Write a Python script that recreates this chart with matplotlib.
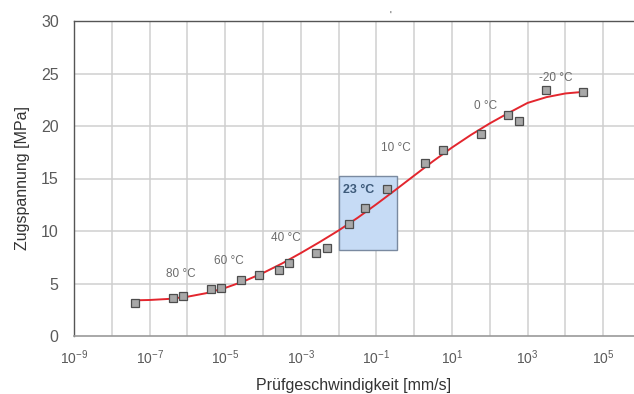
import matplotlib
matplotlib.use("Agg")
import matplotlib.pyplot as plt
from matplotlib.patches import Rectangle
import numpy as np

plt.rcParams['font.family'] = ['Liberation Sans', 'DejaVu Sans']
plt.rcParams['mathtext.fontset'] = 'custom'
plt.rcParams['mathtext.rm'] = 'Liberation Sans'
plt.rcParams['mathtext.it'] = 'Liberation Sans'

# Measured points: test speed (log10 mm/s) and tensile stress (MPa)
meas_logv = [-7.39, -6.39, -6.12, -5.38, -5.12, -4.58, -4.10, -3.58, -3.30,
             -2.60, -2.31, -1.72, -1.30, -0.72, 0.29, 0.77, 1.78, 2.48,
             2.77, 3.48, 4.47]
meas_mpa = [3.14, 3.62, 3.78, 4.51, 4.57, 5.33, 5.85, 6.29, 6.95,
            7.90, 8.42, 10.70, 12.23, 14.00, 16.51, 17.69, 19.28, 21.09,
            20.48, 23.47, 23.28]

# Master curve (log10 mm/s, MPa)
curve_logv = [-7.39, -7.0, -6.5, -6.0, -5.5, -5.0, -4.5, -4.0, -3.5,
              -3.0, -2.5, -2.0, -1.5, -1.0, -0.5, 0.0, 0.5, 1.0,
              1.5, 2.0, 2.5, 3.0, 3.5, 4.0, 4.47]
curve_mpa = [3.40, 3.43, 3.53, 3.74, 4.08, 4.58, 5.22, 6.00, 6.90,
             7.90, 8.95, 10.05, 11.25, 12.55, 13.90, 15.28, 16.65, 17.95,
             19.15, 20.25, 21.25, 22.20, 22.75, 23.10, 23.25]

# Temperature annotations (text, log10 speed, MPa)
temp_text = ["80 °C", "60 °C", "40 °C", "23 °C", "10 °C", "0 °C", "-20 °C"]
temp_logv = [-6.17, -4.90, -3.39, -1.46, -0.49, 1.90, 3.74]
temp_mpa = [5.9, 7.16, 9.3, 13.9, 17.9, 21.9, 24.6]

# Highlighted reference range at 23 °C (log10 speed, MPa)
box_logv = [-1.98, -0.463]
box_mpa = [8.16, 15.2]

x_ticks_exp = [-9, -7, -5, -3, -1, 1, 3, 5]
y_ticks = [0, 5, 10, 15, 20, 25, 30]

fig = plt.figure(figsize=(6.34, 3.94), dpi=100)
ax = fig.add_axes([74 / 634, 58 / 394, (634 - 74) / 634, (336 - 21) / 394])

ax.set_xscale('log')
ax.set_xlim(1e-9, 10 ** 5.815)
ax.set_ylim(0, 30)

# grid: every decade and every 5 MPa
for e in range(-8, 6):
    ax.axvline(10.0 ** e, color='#cfcfcf', lw=1.1, zorder=0)
for yv in y_ticks[1:-1]:
    ax.axhline(yv, color='#cfcfcf', lw=1.1, zorder=0)

ax.add_patch(Rectangle((10 ** box_logv[0], box_mpa[0]),
                       10 ** box_logv[1] - 10 ** box_logv[0],
                       box_mpa[1] - box_mpa[0],
                       facecolor='#c6dbf5', edgecolor='#7a8aa0', lw=1.0, zorder=1))

ax.plot(10.0 ** np.array(curve_logv), curve_mpa, color='#e3262e', lw=1.4,
        zorder=3, solid_joinstyle='round')
ax.plot(10.0 ** np.array(meas_logv), meas_mpa, linestyle='none', marker='s',
        ms=5.8, mfc='#a8a8a8', mec='#4d4d4d', mew=0.9, zorder=4)

for t, lv, m in zip(temp_text, temp_logv, temp_mpa):
    bold = t == "23 °C"
    ax.text(10 ** lv, m, t, ha='center', va='center',
            fontsize=9 if bold else 8.5,
            color='#3d5a7a' if bold else '#6b6b6b',
            fontweight='bold' if bold else 'normal', zorder=5)

ax.set_xticks([10.0 ** e for e in x_ticks_exp])
ax.set_xticklabels([r'$\mathregular{10^{%d}}$' % e for e in x_ticks_exp])
ax.xaxis.set_minor_locator(matplotlib.ticker.NullLocator())
ax.set_yticks(y_ticks)
ax.tick_params(axis='both', length=0, labelcolor='#5a5a5a')
ax.tick_params(axis='x', pad=9, labelsize=10)
ax.tick_params(axis='y', pad=11, labelsize=11.5)

ax.set_xlabel('Prüfgeschwindigkeit [mm/s]', fontsize=11.5, color='#333333',
              labelpad=8)
ax.set_ylabel('Zugspannung [MPa]', fontsize=11.5, color='#333333', labelpad=8)

for side in ['left', 'top']:
    ax.spines[side].set_color('#555555')
    ax.spines[side].set_linewidth(1.0)
ax.spines['bottom'].set_color('#9a9a9a')
ax.spines['bottom'].set_linewidth(1.2)
ax.spines['right'].set_visible(False)

fig.text(390.5 / 634, 1 - 16 / 394, "'", fontsize=7, color='#444444',
         ha='center', va='center')

fig.savefig('out.png', dpi=100)
